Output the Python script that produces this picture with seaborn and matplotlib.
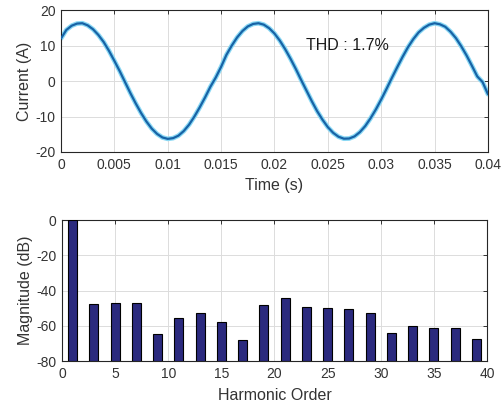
import numpy as np
import pandas as pd
import matplotlib
matplotlib.use("Agg")
import matplotlib.pyplot as plt
import seaborn as sns

# ---- data ----
time_s = [i * 0.0005 for i in range(81)]
current_a = [12.0, 14.4, 15.6, 16.2, 16.3, 15.7, 14.6, 13.0, 11.0, 8.5,
             5.7, 2.8, -0.3, -3.4, -6.3, -9.0, -11.4, -13.4, -14.9, -15.9,
             -16.3, -16.1, -15.4, -14.1, -12.3, -10.0, -7.4, -4.6, -1.6, 1.0,
             4.0, 7.4, 10.0, 12.3, 14.1, 15.4, 16.1, 16.3, 15.9, 14.9,
             13.4, 11.4, 9.0, 6.3, 3.4, 0.3, -2.7, -5.7, -8.5, -10.9,
             -13.0, -14.6, -15.7, -16.25, -16.2, -15.6, -14.4, -12.7, -10.5, -8.0,
             -5.2, -2.2, 0.9, 3.9, 6.8, 9.5, 11.8, 13.7, 15.0, 15.9,
             16.3, 16.0, 15.3, 13.9, 12.1, 9.8, 7.2, 4.3, 1.3, -0.3,
             -3.7]

harmonic_order = [1, 3, 5, 7, 9, 11, 13, 15, 17, 19,
                  21, 23, 25, 27, 29, 31, 33, 35, 37, 39]
magnitude_db = [0.0, -47.7, -47.1, -47.1, -64.9, -55.8, -53.0, -57.9, -67.9, -48.2,
                -44.1, -49.4, -49.9, -50.5, -53.0, -64.3, -60.1, -61.3, -61.3, -67.3]

thd_text = "THD : 1.7%"
time_ticks = [0, 0.005, 0.01, 0.015, 0.02, 0.025, 0.03, 0.035, 0.04]
time_tick_labels = ["0", "0.005", "0.01", "0.015", "0.02", "0.025", "0.03", "0.035", "0.04"]
current_ticks = [-20, -10, 0, 10, 20]
harm_ticks = [0, 5, 10, 15, 20, 25, 30, 35, 40]
mag_ticks = [-80, -60, -40, -20, 0]
mag_base = -80

# ---- style ----
sns.set_theme(style="white")
plt.rcParams["font.family"] = ["Liberation Sans", "DejaVu Sans"]
plt.rcParams["axes.unicode_minus"] = False
text_col = "#333333"

fig = plt.figure(figsize=(5.02, 4.04), dpi=100)
ax1 = fig.add_axes([0.1215, 0.6238, 0.8505, 0.3512])
ax2 = fig.add_axes([0.1235, 0.1064, 0.8465, 0.3490])

df_wave = pd.DataFrame({"t": time_s, "i": current_a})
sns.lineplot(data=df_wave, x="t", y="i", ax=ax1, color="#8ad8f4", lw=3.4, zorder=2)
sns.lineplot(data=df_wave, x="t", y="i", ax=ax1, color="#1763a6", lw=1.6, zorder=3)
ax1.set_xlim(0, 0.04)
ax1.set_ylim(-20, 20)
ax1.set_xticks(time_ticks)
ax1.set_xticklabels(time_tick_labels)
ax1.set_yticks(current_ticks)
ax1.set_xlabel("Time (s)", fontsize=11.5, color=text_col, labelpad=5)
ax1.set_ylabel("Current (A)", fontsize=11.5, color=text_col, labelpad=2)
ax1.text(0.023, 10, thd_text, fontsize=11.5, color="#1a1a1a", ha="left", va="center")

df_h = pd.DataFrame({"h": harmonic_order, "m": magnitude_db})
df_h["height"] = df_h["m"] - mag_base
sns.barplot(data=df_h, x="h", y="height", ax=ax2, native_scale=True,
            width=0.43, color="#2b2a7e", saturation=1, edgecolor="black",
            linewidth=0.8, bottom=mag_base, zorder=3)
ax2.set_xlim(0, 40)
ax2.set_ylim(-80, 0)
ax2.set_xticks(harm_ticks)
ax2.set_yticks(mag_ticks)
ax2.set_xlabel("Harmonic Order", fontsize=11.5, color=text_col, labelpad=5)
ax2.set_ylabel("Magnitude (dB)", fontsize=11.5, color=text_col, labelpad=2)

for ax in (ax1, ax2):
    ax.grid(True, color="#dcdcdc", lw=0.7, zorder=0)
    ax.set_axisbelow(True)
    for sp in ax.spines.values():
        sp.set_visible(True)
        sp.set_color("#262626")
        sp.set_linewidth(0.8)
    ax.tick_params(axis="both", direction="in", length=3, width=0.7,
                   colors=text_col, labelsize=10, top=True, right=True,
                   labelcolor=text_col, pad=4)

fig.savefig("out.png", dpi=100)
